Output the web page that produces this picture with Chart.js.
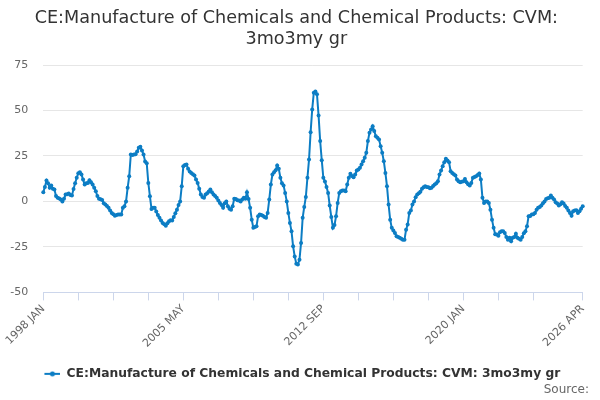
<!DOCTYPE html>
<html lang="en">
<head>
    <meta charset="UTF-8">
    <title>CE:Manufacture of Chemicals and Chemical Products: CVM: 3mo3my gr</title>
    <script src="https://cdn.jsdelivr.net/npm/chart.js"></script>
    <style>
        body {
            margin: 0;
            background-color: #fff;
        }

        .chart-box {
            width: 600px;
            height: 400px;
        }
    </style>
</head>
<body>
    <div class="chart-box">
        <canvas id="chemChart"></canvas>
    </div>
    <script>
        // Monthly series, 1998 JAN .. 2026 APR (one row per year)
        const seriesName = 'CE:Manufacture of Chemicals and Chemical Products: CVM: 3mo3my gr';
        const monthNames = ['JAN', 'FEB', 'MAR', 'APR', 'MAY', 'JUN', 'JUL', 'AUG', 'SEP', 'OCT', 'NOV', 'DEC'];
        const firstYear = 1998;
        const values = [
            5, 8, 11.5, 10, 7.5, 8.7, 7, 6.5, 3, 2, 1.6, 1,
            0, 1.5, 3.8, 4, 4.3, 3.5, 3.2, 6.9, 10, 13, 15.5, 16,
            14.8, 12, 9.3, 10, 10.2, 11.7, 10.5, 9.3, 7.5, 5.6, 3, 1.5,
            1.2, 0.8, -1, -1.7, -2.5, -3.5, -5, -6.3, -7, -7.8, -7.5, -7.2,
            -7.2, -7.2, -3.5, -2.6, 0, 7.5, 13.9, 25.8, 25.5, 25.8, 26, 27.5,
            29.5, 30, 28, 25.8, 22, 21, 10.2, 2.9, -4.1, -3.5, -3.5, -5.5,
            -7.5, -9, -10.5, -11.8, -12.5, -13.3, -12, -10.9, -10.3, -10.5, -8.5, -6.5,
            -4.5, -2, 0, 8.4, 19.4, 20, 20.3, 18, 16.5, 15.7, 15, 14.3,
            12, 10.2, 7, 3.8, 2.5, 2, 3.8, 4.5, 5.5, 6.5, 5, 3.8,
            3, 2, 0.5, -0.8, -2, -3.5, -1, 0, -2.6, -4, -4.5, -2.6,
            1.5, 1.4, 0.7, 0.5, 0, 1, 2, 1.5, 5, 1.4, -3.5, -10,
            -14.5, -14, -13.6, -8.1, -7.2, -7.5, -7.8, -8.5, -9, -6.3, 1, 9.3,
            14.8, 16, 17.2, 19.8, 18, 13, 10, 8.8, 4.7, 0, -6.3, -11.8,
            -16.4, -24.7, -30.2, -34.2, -34.7, -32, -22.8, -9, -3, 2.5, 13, 23,
            38.1, 50.6, 59.8, 60.5, 58.9, 47.3, 33.2, 22.7, 13, 11, 8, 4.7,
            -2.3, -8.5, -14.5, -13, -8.1, -0.8, 4.7, 5.6, 6, 6, 5.6, 9.3,
            13, 15.2, 14, 13.3, 14.8, 17, 17.5, 18.5, 20.3, 22.1, 24, 26.8,
            33.2, 37.8, 39.6, 41.4, 38.7, 35.9, 35, 34.1, 30.4, 26.8, 22.1, 15.7,
            8.4, -1.7, -10, -14.5, -16, -17.3, -19.2, -19.5, -20, -20.5, -21, -21,
            -15.5, -12.7, -6.3, -5, -1.7, 0, 2.3, 3.8, 4.5, 5.3, 7, 7.8,
            8.4, 8, 7.8, 7.2, 7.5, 8.5, 9.3, 10, 11.1, 14.8, 17, 19.4,
            21.6, 23.5, 22.5, 21.6, 16.6, 15.7, 15, 14.3, 12, 11.1, 10.6, 10.8,
            11.1, 12.4, 10.6, 9.5, 8.8, 10.2, 13, 13.5, 13.9, 14.5, 15.4, 12.1,
            2, -0.8, 0, 0, -0.8, -4.5, -10, -14.5, -18, -18.2, -18.8, -17,
            -16.4, -16.4, -17.3, -19.5, -21, -20, -21.9, -20, -19.5, -17.7, -20, -20.5,
            -21, -19.5, -17.5, -16.4, -13.6, -8.1, -8, -7.2, -7, -6.3, -4.5, -3.5,
            -3, -2.3, -1, 0, 1.4, 1.8, 2, 3.2, 2, 1, -0.5, -1.2,
            -2.3, -1.5, -0.4, -1.2, -2.5, -3.5, -5, -6.3, -7.8, -5.4, -5, -4.8,
            -6.3, -5.4, -4, -2.6
        ];

        // x axis: which months get a tick mark, and which of those get a label
        const tickMonths = [0, 22, 44, 66, 88, 110, 132, 154, 176, 198, 220, 242, 264, 286, 308, 339];
        const labelMonths = [0, 88, 176, 264, 339];

        const labels = values.map((v, i) =>
            (firstYear + Math.floor(i / 12)) + ' ' + monthNames[i % 12]);

        const lineColor = '#0c7dc4';
        const fontFamily = '"DejaVu Sans", sans-serif';

        // legend symbol: short line with a dot; drawn in the right part of a
        // wider box so the legend sits a little further right, as in the original
        const marker = document.createElement('canvas');
        marker.width = 28;
        marker.height = 6;
        const mctx = marker.getContext('2d');
        mctx.strokeStyle = lineColor;
        mctx.lineWidth = 2;
        mctx.beginPath();
        mctx.moveTo(12, 3);
        mctx.lineTo(28, 3);
        mctx.stroke();
        mctx.fillStyle = lineColor;
        mctx.beginPath();
        mctx.arc(20, 3, 2.5, 0, Math.PI * 2);
        mctx.fill();

        const sourceNote = {
            id: 'sourceNote',
            afterDraw(chart) {
                const c = chart.ctx;
                c.save();
                c.font = '12px ' + fontFamily;
                c.fillStyle = '#666666';
                c.textAlign = 'right';
                c.textBaseline = 'middle';
                c.fillText('Source:', 589, 390);
                c.restore();
            }
        };

        const ctx = document.getElementById('chemChart').getContext('2d');
        const chemChart = new Chart(ctx, {
            type: 'line',
            data: {
                labels: labels,
                datasets: [{
                    label: seriesName,
                    data: values,
                    borderColor: lineColor,
                    backgroundColor: lineColor,
                    borderWidth: 2,
                    pointRadius: 2,
                    pointBorderWidth: 0,
                    pointBackgroundColor: lineColor,
                    tension: 0,
                    fill: false
                }]
            },
            options: {
                responsive: true,
                maintainAspectRatio: false,
                animation: false,
                layout: {
                    padding: { left: 10, right: 17.3, top: 0, bottom: 10 }
                },
                plugins: {
                    title: {
                        display: true,
                        text: ['CE:Manufacture of Chemicals and Chemical Products: CVM:', '3mo3my gr'],
                        color: '#333333',
                        font: { family: fontFamily, size: 17.6, weight: 'normal', lineHeight: 1.2 },
                        padding: { top: 7.5, bottom: 15.26 }
                    },
                    legend: {
                        position: 'bottom',
                        labels: {
                            color: '#333333',
                            font: { family: fontFamily, size: 12.3, weight: 'bold' },
                            padding: 10,
                            usePointStyle: true,
                            pointStyleWidth: 28,
                            generateLabels(chart) {
                                return Chart.defaults.plugins.legend.labels.generateLabels(chart)
                                    .map(item => Object.assign(item, { pointStyle: marker }));
                            }
                        }
                    },
                    tooltip: { enabled: false }
                },
                scales: {
                    x: {
                        afterFit(scale) {
                            scale.height = 65.3;
                        },
                        border: { display: true, color: '#ccd6eb', width: 1 },
                        grid: {
                            drawOnChartArea: false,
                            drawTicks: true,
                            tickLength: 8,
                            tickWidth: 1,
                            tickColor: c => tickMonths.includes(c.index) ? '#ccd6eb' : 'rgba(0,0,0,0)'
                        },
                        ticks: {
                            autoSkip: false,
                            maxRotation: 45,
                            minRotation: 45,
                            padding: 2,
                            color: '#666666',
                            font: { family: fontFamily, size: 11 },
                            callback: (value, index) => labelMonths.includes(index) ? labels[index] : ''
                        }
                    },
                    y: {
                        min: -50,
                        max: 75,
                        afterFit(scale) {
                            scale.width = 33.3;
                        },
                        border: { display: false },
                        grid: {
                            color: '#e6e6e6',
                            drawTicks: false
                        },
                        ticks: {
                            stepSize: 25,
                            padding: 15,
                            color: '#666666',
                            font: { family: fontFamily, size: 11 }
                        }
                    }
                }
            },
            plugins: [sourceNote]
        });
    </script>
</body>
</html>
